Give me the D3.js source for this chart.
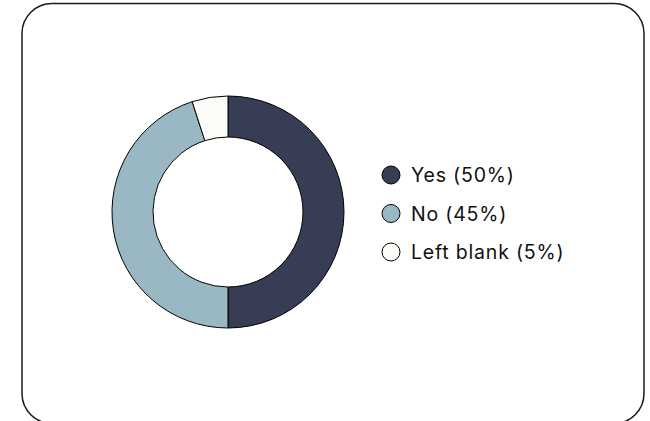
<!DOCTYPE html>
<html>
<head>
    <script src="https://d3js.org/d3.v7.min.js"></script>
</head>
<style>
body { margin: 0; background: #ffffff; }
</style>
<body>
<div id="chart"></div>
<script>
    // Survey answers
    var categories = ["Yes", "No", "Left blank"];
    var values = [50, 45, 5];
    var colors = ["#363d55", "#9ab8c4", "#fbfbf8"];

    var width = 650, height = 421;

    var svg = d3.select("#chart")
        .append("svg")
        .attr("width", width)
        .attr("height", height);

    // Rounded card; its bottom runs off the page
    svg.append("rect")
        .attr("x", 22)
        .attr("y", 3.5)
        .attr("width", 622)
        .attr("height", 420)
        .attr("rx", 30)
        .attr("ry", 30)
        .style("fill", "none")
        .style("stroke", "#1a1a1a")
        .style("stroke-width", 1.5);

    var data = categories.map((c, i) => ({ label: c, value: values[i] }));

    var pie = d3.pie().sort(null).value(d => d.value);
    var arc = d3.arc().innerRadius(75).outerRadius(116);

    var g = svg.append("g")
        .attr("transform", "translate(228,212)");

    g.selectAll("path")
        .data(pie(data))
        .enter()
        .append("path")
        .attr("d", arc)
        .style("fill", (d, i) => colors[i])
        .style("stroke", "#000000")
        .style("stroke-width", 1);

    // Legend
    var legend = svg.append("g")
        .attr("transform", "translate(391,175)");

    var item = legend.selectAll("g")
        .data(data)
        .enter().append("g")
        .attr("transform", (d, i) => "translate(0," + (i * 38.5) + ")");

    item.append("circle")
        .attr("r", 9)
        .style("fill", (d, i) => colors[i])
        .style("stroke", "#000000")
        .style("stroke-width", 1);

    item.append("text")
        .attr("x", 20)
        .attr("dy", "0.36em")
        .attr("font-family", "Inter, sans-serif")
        .attr("font-size", "19.5px")
        .attr("letter-spacing", "0.8px")
        .attr("fill", "#111111")
        .text(d => d.label + " (" + d.value + "%)");
</script>
</body>
</html>
